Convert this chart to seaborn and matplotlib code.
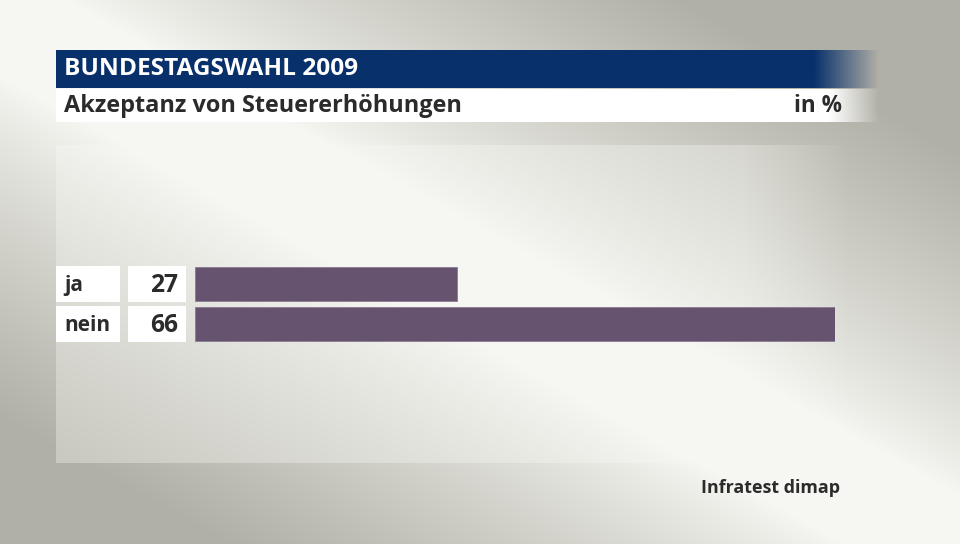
import numpy as np
import matplotlib
matplotlib.use("Agg")
import matplotlib.pyplot as plt
import seaborn as sns
import pandas as pd
from matplotlib.patches import Rectangle
import matplotlib.transforms as mtransforms
from matplotlib import font_manager

categories = ["ja", "nein"]
values = [27, 66]
title = "BUNDESTAGSWAHL 2009"
subtitle = "Akzeptanz von Steuererhöhungen"
unit = "in %"
source = "Infratest dimap"

sns.set_theme(style="white")
names = {f.name for f in font_manager.fontManager.ttflist}
main_font = "Liberation Sans Narrow" if "Liberation Sans Narrow" in names else "Open Sans"
plt.rcParams["font.family"] = [main_font, "DejaVu Sans"]

W, H = 960, 544
fig = plt.figure(figsize=(W / 100, H / 100), dpi=100)

# background gradient: light diagonal band, dark top-right and bottom-left
bg = fig.add_axes([0, 0, 1, 1])
bg.set_axis_off()
yy, xx = np.mgrid[0:H, 0:W]
light = np.array([246, 247, 242]) / 255
dark = np.array([177, 176, 167]) / 255
p0 = np.array([0.0, 20.0]); p1 = np.array([940.0, 540.0])
dvec = (p1 - p0) / np.linalg.norm(p1 - p0)
nrm = np.array([-dvec[1], dvec[0]])
off = (xx - p0[0]) * nrm[0] + (yy - p0[1]) * nrm[1]
t = np.clip((np.abs(off) - 50) / 300.0, 0, 1)
t = t ** 0.85
img = light * (1 - t[..., None]) + dark * t[..., None]
# lighter panel
panel = (xx >= 56) & (yy >= 145) & (yy <= 462)
fade = np.clip((850 - xx) / 110.0, 0, 1)
pm = (panel * fade * 0.35)[..., None]
img = img * (1 - pm) + np.array([0.97, 0.975, 0.955]) * pm
bg.imshow(img, extent=[0, W, H, 0], aspect="auto", interpolation="bilinear")

def fade_bar(x0, x1, y0, y1, color, fstart):
    n = 400
    xs = np.linspace(x0, x1, n)
    alpha = np.clip((x1 - xs) / (x1 - fstart), 0, 1)
    rgba = np.zeros((1, n, 4))
    rgba[..., :3] = matplotlib.colors.to_rgb(color)
    rgba[0, :, 3] = alpha
    bg.imshow(rgba, extent=[x0, x1, y1, y0], aspect="auto", interpolation="bilinear")

fade_bar(56, 880, 50, 88, "#08306b", 815)
fade_bar(56, 880, 89, 122, "#ffffff", 830)
bg.set_xlim(0, W)
bg.set_ylim(H, 0)

renderer = fig.canvas.get_renderer()

def fit(txt, width, size):
    txt.set_fontsize(size)
    for _ in range(3):
        w = txt.get_window_extent(renderer).width
        txt.set_fontsize(txt.get_fontsize() * width / w)
    return txt

fit(bg.text(64, 69, title, color="white", fontweight="bold",
            va="center", ha="left"), 293, 17)
fit(bg.text(64, 106, subtitle, color="#2b2b2b", fontweight="bold",
            va="center", ha="left"), 399, 16)
fit(bg.text(842, 106, unit, color="#2b2b2b", fontweight="bold",
            va="center", ha="right"), 48, 16)
fit(bg.text(840, 488, source, color="#2b2b2b", fontweight="bold",
            va="center", ha="right"), 139, 12)

# bar axes: x from 195 to 835 px covers 0..66; rows 40 px apart
ax = fig.add_axes([195 / W, (H - 344) / H, (835 - 195) / W, 80 / H])
df = pd.DataFrame({"cat": categories, "val": values})
sns.barplot(data=df, x="val", y="cat", orient="h", color="#665370",
            saturation=1, width=0.85, ax=ax, edgecolor="#8a7a92", linewidth=0.6)
ax.set_xlim(0, max(values))
ax.set_ylim(1.5, -0.5)
ax.set_axis_off()
ax.patch.set_alpha(0)

trans = mtransforms.blended_transform_factory(bg.transData, ax.transData)
for i, (c, v) in enumerate(zip(categories, values)):
    fig.add_artist(Rectangle((56, i - 0.44), 64, 0.88, transform=trans,
                             facecolor="white", edgecolor="none", zorder=2))
    fig.add_artist(Rectangle((128, i - 0.44), 58, 0.88, transform=trans,
                             facecolor="white", edgecolor="none", zorder=2))
    t1 = fig.text(0, 0, c, transform=trans, fontweight="bold",
                  color="#2b2b2b", va="center", ha="left", zorder=3)
    t1.set_position((64, i + 0.03))
    t2 = fig.text(0, 0, str(v), transform=trans, fontweight="bold",
                  color="#2b2b2b", va="center", ha="right", zorder=3)
    t2.set_position((178, i + 0.03))
    if c == "nein":
        fit(t1, 46, 15)
    fit(t2, 28, 15)

# harmonise label font size with "nein"
size = max(t.get_fontsize() for t in fig.texts if t.get_text() == "nein")
for t in fig.texts:
    if t.get_text() in categories:
        t.set_fontsize(size)

fig.savefig("out.png", dpi=100)
